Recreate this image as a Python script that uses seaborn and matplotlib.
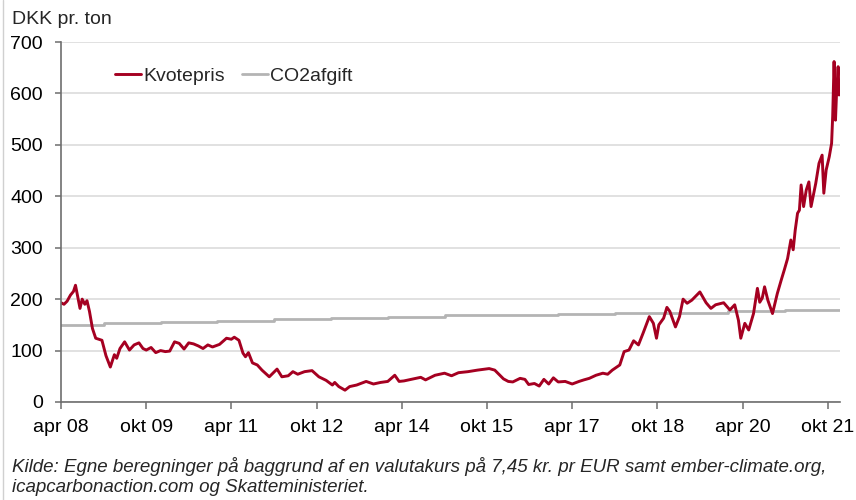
import matplotlib
matplotlib.use("Agg")
import matplotlib.pyplot as plt
from matplotlib.lines import Line2D
import seaborn as sns
import pandas as pd

# ---------------- data ----------------
kvote_dates = [
    "2008-04-01", "2008-04-20", "2008-05-10", "2008-06-01", "2008-06-20", "2008-07-03", "2008-07-20",
    "2008-08-01", "2008-08-15", "2008-09-01", "2008-09-15", "2008-10-01", "2008-10-20", "2008-11-10",
    "2008-12-01", "2008-12-20", "2009-01-15", "2009-02-12", "2009-03-10", "2009-03-25", "2009-04-15",
    "2009-05-15", "2009-06-15", "2009-07-15", "2009-08-15", "2009-09-10", "2009-10-01", "2009-11-01",
    "2009-12-01", "2010-01-01", "2010-02-01", "2010-03-01", "2010-04-01", "2010-05-01", "2010-06-01",
    "2010-07-01", "2010-08-01", "2010-09-01", "2010-10-01", "2010-11-01", "2010-12-01", "2011-01-15",
    "2011-03-01", "2011-04-01", "2011-04-20", "2011-05-20", "2011-06-15", "2011-07-01", "2011-07-20",
    "2011-08-15", "2011-09-15", "2011-10-15", "2011-12-01", "2012-01-20", "2012-02-20", "2012-04-01",
    "2012-05-01", "2012-06-01", "2012-07-15", "2012-09-01", "2012-10-15", "2012-12-01", "2013-01-10",
    "2013-01-25", "2013-02-20", "2013-04-01", "2013-05-01", "2013-06-15", "2013-08-15", "2013-10-01",
    "2013-11-15", "2014-01-01", "2014-02-15", "2014-03-15", "2014-04-15", "2014-06-01", "2014-08-01",
    "2014-09-01", "2014-11-01", "2015-01-01", "2015-02-15", "2015-04-01", "2015-06-01", "2015-08-01",
    "2015-10-15", "2015-11-20", "2016-01-15", "2016-02-15", "2016-03-15", "2016-05-01", "2016-06-01",
    "2016-06-25", "2016-08-01", "2016-09-01", "2016-10-01", "2016-11-01", "2016-12-01", "2017-01-01",
    "2017-02-15", "2017-04-01", "2017-05-15", "2017-06-15", "2017-07-20", "2017-09-01", "2017-10-15",
    "2017-11-15", "2017-12-15", "2018-02-01", "2018-03-01", "2018-04-01", "2018-05-01", "2018-06-01",
    "2018-07-01", "2018-08-10", "2018-09-05", "2018-09-25", "2018-10-10", "2018-11-10", "2018-12-01",
    "2018-12-20", "2019-01-25", "2019-02-20", "2019-03-15", "2019-04-10", "2019-05-10", "2019-07-01",
    "2019-08-10", "2019-09-10", "2019-10-10", "2019-12-01", "2020-01-10", "2020-02-10", "2020-03-05",
    "2020-03-20", "2020-04-15", "2020-05-10", "2020-06-10", "2020-07-05", "2020-07-20", "2020-08-05",
    "2020-08-20", "2020-09-10", "2020-10-10", "2020-11-10", "2020-12-05", "2020-12-25", "2021-01-15",
    "2021-02-05", "2021-02-20", "2021-03-05", "2021-03-20", "2021-04-01", "2021-04-12", "2021-04-28",
    "2021-05-15", "2021-06-01", "2021-06-15", "2021-06-30", "2021-07-15", "2021-08-05", "2021-08-25",
    "2021-09-05", "2021-09-20", "2021-10-10", "2021-10-25", "2021-11-01", "2021-11-10", "2021-11-19",
    "2021-11-25", "2021-12-06", "2021-12-12", "2021-12-18",
]
kvote_values = [
    193, 190, 196, 208, 215, 227, 200,
    182, 200, 190, 197, 176, 143, 124,
    122, 120, 90, 68, 92, 85, 104,
    117, 101, 111, 115, 104, 101, 106,
    96, 100, 98, 99, 117, 114, 103,
    115, 113, 109, 104, 111, 107, 112,
    124, 122, 126, 120, 95, 88, 96,
    76, 72, 62, 49, 64, 49, 51,
    59, 54, 59, 61, 49, 42, 33,
    38, 30, 23, 30, 33, 40, 35,
    38, 40, 52, 40, 41, 44, 48,
    43, 52, 56, 51, 57, 59, 62,
    65, 62, 45, 40, 39, 46, 44,
    34, 36, 31, 44, 35, 47, 39,
    40, 35, 40, 43, 46, 52, 56,
    54, 62, 72, 98, 101, 119, 111,
    134, 166, 153, 124, 150, 163, 184,
    176, 146, 166, 200, 192, 198, 214,
    193, 182, 189, 193, 179, 189, 159,
    124, 153, 140, 172, 221, 194, 202,
    224, 198, 172, 211, 237, 257, 279,
    315, 296, 334, 367, 373, 422, 380,
    412, 428, 380, 402, 425, 464, 480,
    406, 451, 477, 503, 555, 662, 548,
    594, 652, 597, 600,
]

afgift_dates = ["2008-04-01", "2009-01-01", "2010-01-01", "2011-01-01", "2012-01-01", "2013-01-01",
                "2014-01-01", "2015-01-01", "2016-01-01", "2017-01-01", "2018-01-01", "2019-01-01",
                "2020-01-01", "2021-01-01", "2021-12-18"]
afgift_values = [150, 153, 155, 158, 161, 163, 166, 169, 170, 171, 173, 174, 176, 178, 178]

tick_dates = ["2008-04-01", "2009-10-01", "2011-04-01", "2012-10-01", "2014-04-01",
              "2015-10-01", "2017-04-01", "2018-10-01", "2020-04-01", "2021-10-01"]
tick_labels = ["apr 08", "okt 09", "apr 11", "okt 12", "apr 14",
               "okt 15", "apr 17", "okt 18", "apr 20", "okt 21"]
y_ticks = [0, 100, 200, 300, 400, 500, 600, 700]

# ---------------- plot ----------------
sns.set_theme(style="white")
plt.rcParams["font.family"] = ["Liberation Sans", "DejaVu Sans"]

df_k = pd.DataFrame({"dato": pd.to_datetime(kvote_dates), "vaerdi": kvote_values})
df_a = pd.DataFrame({"dato": pd.to_datetime(afgift_dates), "vaerdi": afgift_values})

fig = plt.figure(figsize=(8.56, 5.0), dpi=100)
ax = fig.add_axes([0.0713, 0.196, 0.910, 0.720])

red = "#A50021"
grey = "#B4B4B4"

sns.lineplot(data=df_a, x="dato", y="vaerdi", ax=ax, color=grey, linewidth=2.0,
             drawstyle="steps-post", label="CO2afgift")
sns.lineplot(data=df_k, x="dato", y="vaerdi", ax=ax, color=red, linewidth=2.1,
             label="Kvotepris")

ax.set_xlim(pd.Timestamp("2008-04-01"), pd.Timestamp("2021-12-18"))
ax.set_ylim(0, 700)
ax.set_yticks(y_ticks)
ax.set_xticks(pd.to_datetime(tick_dates))
ax.set_xticklabels(tick_labels)
ax.set_xlabel("")
ax.set_ylabel("")

ax.yaxis.grid(True, color="#DCDCDC", linewidth=1.2)
ax.xaxis.grid(False)
ax.set_axisbelow(True)
for s in ["top", "right"]:
    ax.spines[s].set_visible(False)
for s in ["left", "bottom"]:
    ax.spines[s].set_color("#6E6E6E")
    ax.spines[s].set_linewidth(1.2)

ax.tick_params(axis="y", which="major", left=True, length=4, width=1.1, color="#6E6E6E",
               labelsize=14, pad=9, labelcolor="black")
ax.tick_params(axis="x", which="major", bottom=True, length=5, width=1.1, color="#6E6E6E",
               labelsize=14, pad=7, labelcolor="black")

handles, labels = ax.get_legend_handles_labels()
order = [labels.index("Kvotepris"), labels.index("CO2afgift")]
leg = ax.legend([handles[i] for i in order], [labels[i] for i in order],
                loc="center left", bbox_to_anchor=(0.069, 0.906), ncol=2, frameon=False,
                fontsize=14, handlelength=1.35, handletextpad=0.1, columnspacing=0.9,
                borderaxespad=0, borderpad=0)

fig.text(12 / 856, 1 - 20 / 500, "DKK pr. ton", fontsize=14, va="center", ha="left")
fig.text(12 / 856, 1 - 467 / 500,
         "Kilde: Egne beregninger på baggrund af en valutakurs på 7,45 kr. pr EUR samt ember-climate.org,",
         fontsize=13.5, style="italic", va="center", ha="left")
fig.text(12 / 856, 1 - 488 / 500, "icapcarbonaction.com og Skatteministeriet.",
         fontsize=13.5, style="italic", va="center", ha="left")

fig.add_artist(Line2D([2.5 / 856, 2.5 / 856], [0, 1], transform=fig.transFigure,
                      color="#D0D0D0", linewidth=1.0))

fig.savefig("out.png", dpi=100)
